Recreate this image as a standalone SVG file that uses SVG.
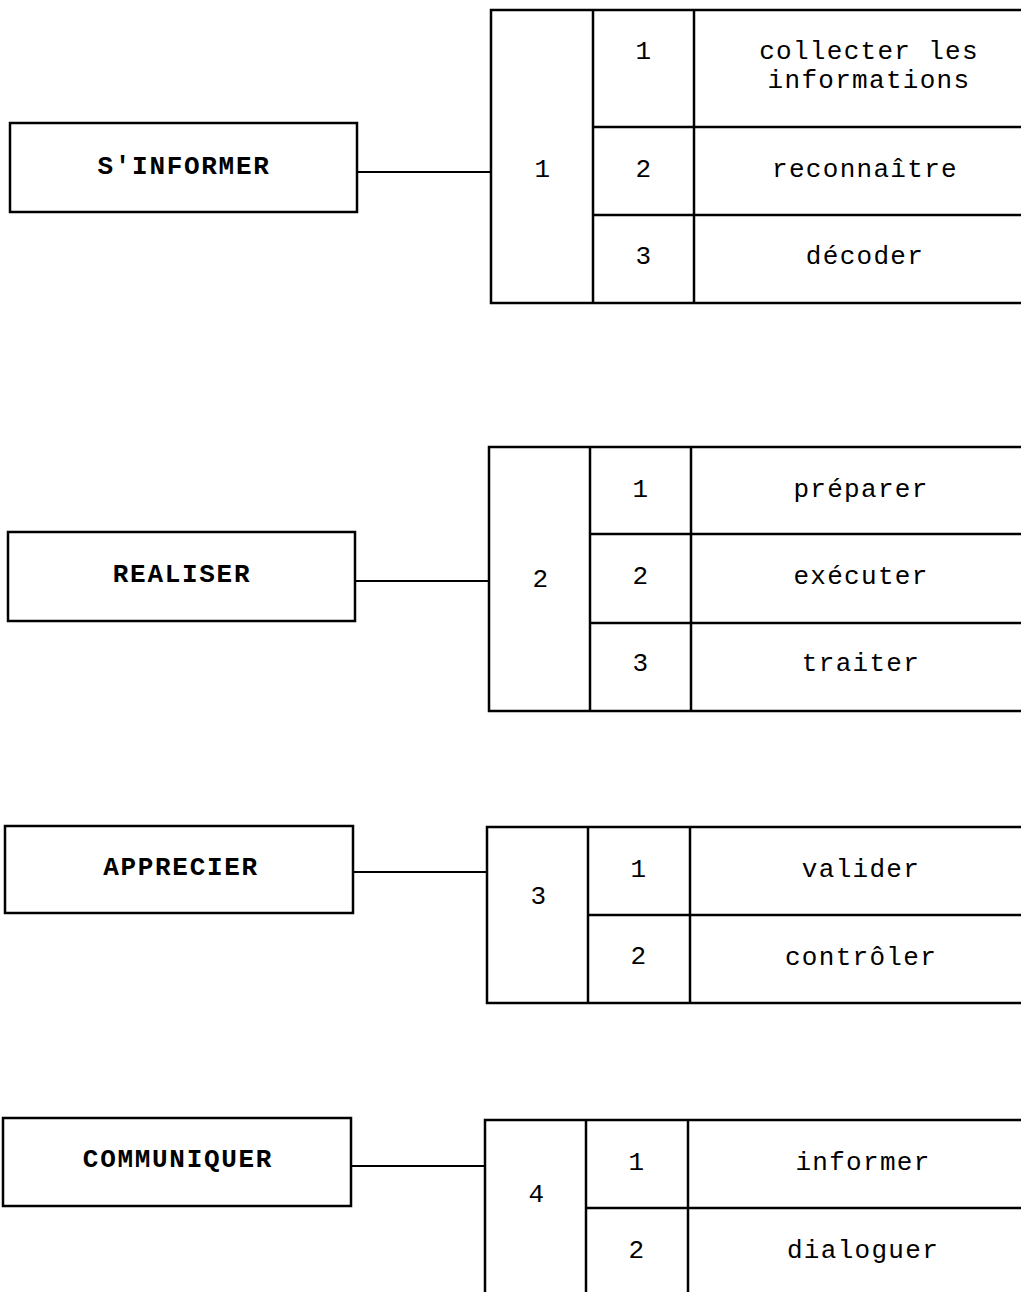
<svg xmlns="http://www.w3.org/2000/svg" width="1021" height="1292" viewBox="0 0 1021 1292">
<style>
  .box { fill: #fff; stroke: #000; stroke-width: 2.5; }
  .ln { stroke: #000; stroke-width: 2.5; fill: none; }
  .conn { stroke: #000; stroke-width: 2; fill: none; }
  .t { font-family: "Liberation Mono", "DejaVu Sans Mono", monospace; font-size: 26px; letter-spacing: 1.3px; fill: #000; text-anchor: middle; }
  .h { font-family: "Liberation Mono", "DejaVu Sans Mono", monospace; font-size: 26px; font-weight: bold; letter-spacing: 1.7px; fill: #000; text-anchor: middle; }
</style>
<rect width="1021" height="1292" fill="#fff"/>

<g id="connectors">
  <line class="conn" x1="357" y1="172" x2="491" y2="172"/>
  <line class="conn" x1="355" y1="581" x2="489" y2="581"/>
  <line class="conn" x1="353" y1="872" x2="487" y2="872"/>
  <line class="conn" x1="351" y1="1166" x2="485" y2="1166"/>
</g>

<g id="node-sinformer">
  <rect class="box" x="10" y="123" width="347" height="89"/>
  <text class="h" x="184" y="174">S'INFORMER</text>
</g>
<g id="table-1">
  <rect class="box" x="491" y="10" width="560" height="293"/>
  <line class="ln" x1="593" y1="10" x2="593" y2="303"/>
  <line class="ln" x1="694" y1="10" x2="694" y2="303"/>
  <line class="ln" x1="593" y1="127" x2="1030" y2="127"/>
  <line class="ln" x1="593" y1="215" x2="1030" y2="215"/>
  <text class="t" x="543" y="177">1</text>
  <text class="t" x="644" y="59">1</text>
  <text class="t" x="644" y="177">2</text>
  <text class="t" x="644" y="264">3</text>
  <text class="t" x="869" y="59">collecter les</text>
  <text class="t" x="869" y="88">informations</text>
  <text class="t" x="865" y="177">reconnaître</text>
  <text class="t" x="865" y="264">décoder</text>
</g>

<g id="node-realiser">
  <rect class="box" x="8" y="532" width="347" height="89"/>
  <text class="h" x="182" y="582">REALISER</text>
</g>
<g id="table-2">
  <rect class="box" x="489" y="447" width="560" height="264"/>
  <line class="ln" x1="590" y1="447" x2="590" y2="711"/>
  <line class="ln" x1="691" y1="447" x2="691" y2="711"/>
  <line class="ln" x1="590" y1="534" x2="1030" y2="534"/>
  <line class="ln" x1="590" y1="623" x2="1030" y2="623"/>
  <text class="t" x="541" y="587">2</text>
  <text class="t" x="641" y="497">1</text>
  <text class="t" x="641" y="584">2</text>
  <text class="t" x="641" y="671">3</text>
  <text class="t" x="861" y="497">préparer</text>
  <text class="t" x="861" y="584">exécuter</text>
  <text class="t" x="861" y="671">traiter</text>
</g>

<g id="node-apprecier">
  <rect class="box" x="5" y="826" width="348" height="87"/>
  <text class="h" x="181" y="875">APPRECIER</text>
</g>
<g id="table-3">
  <rect class="box" x="487" y="827" width="560" height="176"/>
  <line class="ln" x1="588" y1="827" x2="588" y2="1003"/>
  <line class="ln" x1="690" y1="827" x2="690" y2="1003"/>
  <line class="ln" x1="588" y1="915" x2="1030" y2="915"/>
  <text class="t" x="539" y="904">3</text>
  <text class="t" x="639" y="877">1</text>
  <text class="t" x="639" y="964">2</text>
  <text class="t" x="861" y="877">valider</text>
  <text class="t" x="861" y="965">contrôler</text>
</g>

<g id="node-communiquer">
  <rect class="box" x="3" y="1118" width="348" height="88"/>
  <text class="h" x="178" y="1167">COMMUNIQUER</text>
</g>
<g id="table-4">
  <rect class="box" x="485" y="1120" width="560" height="200"/>
  <line class="ln" x1="586" y1="1120" x2="586" y2="1300"/>
  <line class="ln" x1="688" y1="1120" x2="688" y2="1300"/>
  <line class="ln" x1="586" y1="1208" x2="1030" y2="1208"/>
  <text class="t" x="537" y="1202">4</text>
  <text class="t" x="637" y="1170">1</text>
  <text class="t" x="637" y="1258">2</text>
  <text class="t" x="863" y="1170">informer</text>
  <text class="t" x="863" y="1258">dialoguer</text>
</g>
</svg>
